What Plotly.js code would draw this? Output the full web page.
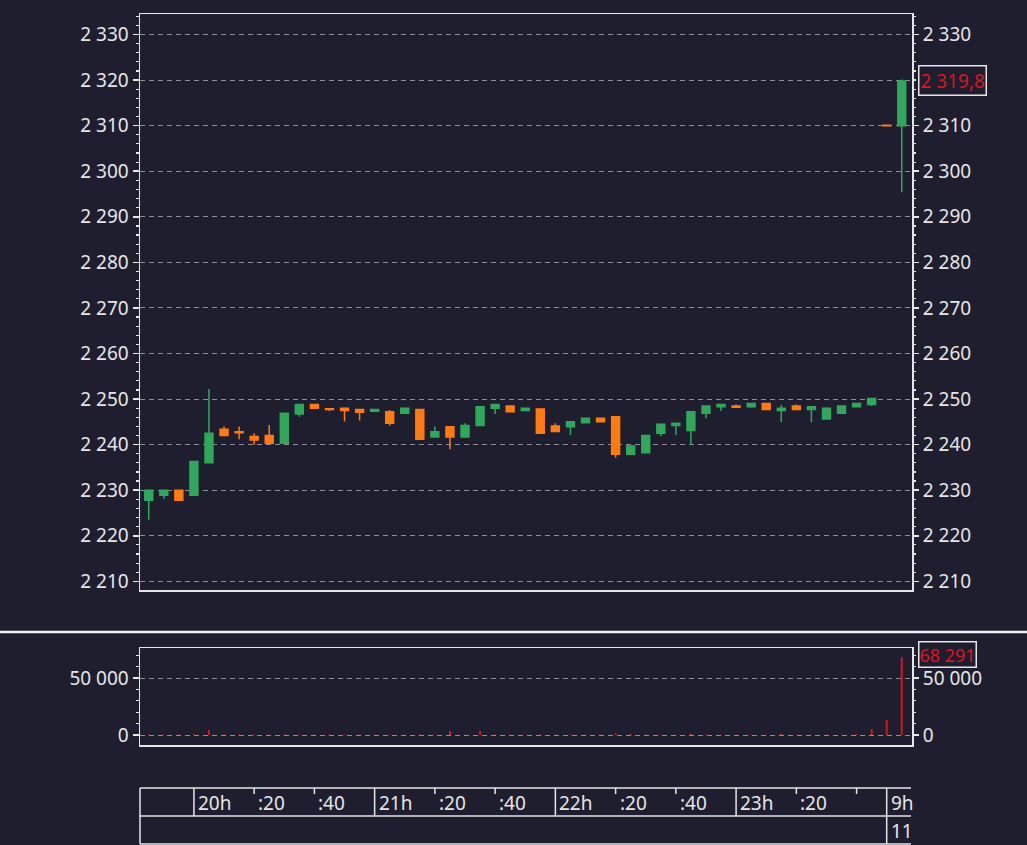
<!DOCTYPE html>
<html>
<head>
<meta charset="utf-8">
<script src="https://cdn.plot.ly/plotly-3.0.1.min.js"></script>
<style>
html,body{margin:0;padding:0;background:#1e1e2f;overflow:hidden;}
#chart{width:1027px;height:845px;}
</style>
</head>
<body>
<div id="chart"></div>
<script>
// ---------- DATA ----------
const days = [
  10,10,10,10,10,10,10,10,10,10,10,10,10,10,10,10,10,10,10,10,
  10,10,10,10,10,10,10,10,10,10,10,10,10,10,10,10,10,10,10,10,
  10,10,10,10,10,10,10,10,10,
  11,11
];
const times = [
  "19:45","19:50","19:55",
  "20:00","20:05","20:10","20:15","20:20","20:25","20:30","20:35","20:40","20:45","20:50","20:55",
  "21:00","21:05","21:10","21:15","21:20","21:25","21:30","21:35","21:40","21:45","21:50","21:55",
  "22:00","22:05","22:10","22:15","22:20","22:25","22:30","22:35","22:40","22:45","22:50","22:55",
  "23:00","23:05","23:10","23:15","23:20","23:25","23:30","23:35","23:40","23:45",
  "09:00","09:05"
];
const open = [
  2227.8,2228.9,2230.0,2228.9,2236.0,2243.4,2242.8,2241.8,2242.0,2240.3,
  2246.7,2248.8,2247.9,2248.0,2247.7,2247.3,2247.2,2246.9,2247.7,2241.7,
  2243.9,2241.7,2244.2,2248.0,2248.5,2247.5,2247.8,2244.1,2243.9,2244.8,
  2245.8,2246.1,2237.9,2238.2,2242.5,2244.2,2243.1,2246.9,2248.3,2248.5,
  2248.3,2249.0,2247.5,2248.5,2247.7,2245.6,2246.9,2248.3,2248.8,
  2310.1,2310.0
];
const high = [
  2230.1,2230.0,2230.0,2236.3,2252.2,2244.0,2244.0,2242.5,2244.3,2246.9,
  2248.8,2248.8,2247.9,2248.0,2247.7,2247.7,2247.6,2248.0,2247.7,2244.0,
  2243.9,2244.7,2248.3,2248.8,2248.5,2248.0,2247.8,2244.7,2245.0,2245.8,
  2245.8,2246.1,2239.7,2242.0,2244.5,2244.7,2247.2,2248.5,2248.8,2248.8,
  2249.0,2249.0,2248.7,2248.8,2248.5,2248.2,2248.5,2249.0,2250.1,
  2310.1,2320.1
];
const low = [
  2223.5,2228.1,2227.8,2228.9,2236.0,2241.8,2241.2,2240.0,2240.3,2240.3,
  2246.1,2248.0,2247.4,2245.1,2245.3,2247.3,2244.2,2246.9,2241.2,2241.7,
  2239.0,2241.7,2244.2,2246.7,2247.2,2247.5,2242.5,2242.9,2242.1,2244.8,
  2245.0,2237.2,2237.9,2238.2,2241.9,2242.1,2240.0,2245.8,2247.4,2248.2,
  2248.1,2247.7,2244.9,2247.7,2244.9,2245.6,2246.9,2248.3,2248.5,
  2310.0,2295.4
];
const close = [
  2230.0,2230.0,2227.8,2236.3,2242.5,2242.0,2242.6,2241.0,2240.3,2246.9,
  2248.8,2248.0,2247.7,2247.5,2247.1,2247.7,2244.7,2248.0,2241.2,2242.8,
  2241.7,2244.2,2248.3,2248.8,2247.2,2248.0,2242.5,2242.9,2245.0,2245.8,
  2245.0,2237.9,2239.7,2242.0,2244.5,2244.7,2247.2,2248.5,2248.8,2248.2,
  2249.0,2247.7,2248.0,2247.7,2248.3,2248.0,2248.5,2249.0,2250.1,
  2310.0,2319.8
];
const volume = [
  600,400,500,700,4400,500,600,500,300,600,
  500,300,400,500,300,300,500,300,400,300,
  3500,300,3500,400,300,300,400,300,500,300,
  300,1500,900,300,400,300,1200,400,300,300,
  400,300,1200,300,300,400,300,1000,5260,
  13160,68291
];
const priceTicks = [2210,2220,2230,2240,2250,2260,2270,2280,2290,2300,2310,2320,2330];

// ---------- STYLE / GEOMETRY ----------
const W = 1027, H = 845;
const BG = '#1e1e2f';
const FG = '#e6e6e6';
const GRID = '#8e8e98';
const GREEN = '#2fa85b';
const ORANGE = '#ff7b0f';
const RED = '#dc1420';
const FONT = 'Noto Sans, Open Sans, sans-serif';
const FS = 19;
const px = v => v / W;          // x pixel -> paper
const py = v => 1 - v / H;      // y pixel -> paper

const cats = days.map((d, i) => d + ' ' + times[i]);
const X_RANGE = [-0.58, 50.68];
const XDOM = [px(140), px(912)];

function fmt(v, dec) {
  const s = v.toFixed(dec).split('.');
  const intp = s[0].replace(/\B(?=(\d{3})+(?!\d))/g, ' ');
  return dec ? intp + ',' + s[1] : intp;
}

const PRICE_RANGE = [2208.1, 2334.5];
const VOL_RANGE = [-8772, 76316];
const last = close.length - 1;

const traces = [
  {
    type: 'candlestick', x: cats, open: open, high: high, low: low, close: close,
    xaxis: 'x', yaxis: 'y', whiskerwidth: 0, hoverinfo: 'skip',
    increasing: {line: {color: GREEN, width: 1.5}, fillcolor: GREEN},
    decreasing: {line: {color: ORANGE, width: 1.5}, fillcolor: ORANGE}
  },
  {
    type: 'bar', x: cats, y: volume, xaxis: 'x2', yaxis: 'y3',
    width: 0.13, marker: {color: RED, line: {width: 0}}, hoverinfo: 'skip'
  },
  // carriers so that the right-hand scales are drawn (no visible marks)
  {type: 'scatter', mode: 'markers', x: [cats[0]], y: [null], xaxis: 'x', yaxis: 'y2',
   marker: {opacity: 0}, hoverinfo: 'skip'},
  {type: 'scatter', mode: 'markers', x: [cats[0]], y: [null], xaxis: 'x2', yaxis: 'y4',
   marker: {opacity: 0}, hoverinfo: 'skip'}
];

const priceAxis = {
  range: PRICE_RANGE, autorange: false, tickmode: 'array', tickvals: priceTicks,
  ticktext: priceTicks.map(v => fmt(v, 0)),
  ticks: 'outside', ticklen: 6, tickwidth: 1.5, tickcolor: FG,
  minor: {tickmode: 'linear', tick0: 2210, dtick: 2, ticks: 'outside', ticklen: 3, tickwidth: 1.2, tickcolor: FG, showgrid: false},
  zeroline: false, fixedrange: true, tickfont: {size: FS, color: FG}
};
const volAxis = {
  range: VOL_RANGE, autorange: false, tick0: 0, dtick: 50000, tickformat: ',d',
  ticks: 'outside', ticklen: 6, tickwidth: 1.5, tickcolor: FG,
  minor: {tick0: 0, dtick: 10000, ticks: 'outside', ticklen: 3, tickwidth: 1.2, tickcolor: FG, showgrid: false},
  zeroline: false, fixedrange: true, tickfont: {size: FS, color: FG}
};

// right-hand price labels: the one hidden behind the last-price box is left out
const rightTicks = priceTicks.filter(v => Math.abs(v - close[last]) > 3);

const layout = {
  width: W, height: H, paper_bgcolor: BG, plot_bgcolor: BG,
  margin: {l: 0, r: 0, t: 0, b: 0}, showlegend: false,
  separators: ', ', boxgap: 0.25,
  font: {family: FONT, size: FS, color: FG},
  xaxis: {
    domain: XDOM, anchor: 'y', type: 'category', categoryorder: 'array', categoryarray: cats,
    range: X_RANGE, showticklabels: false, ticks: '', showgrid: false, zeroline: false,
    showline: true, mirror: true, linecolor: FG, linewidth: 1.5,
    rangeslider: {visible: false}, fixedrange: true
  },
  yaxis: Object.assign({}, priceAxis, {
    domain: [py(590), py(14)], anchor: 'x', side: 'left',
    showgrid: true, gridcolor: GRID, gridwidth: 1, griddash: '5px,4px',
    showline: true, mirror: true, linecolor: FG, linewidth: 1.5
  }),
  yaxis2: Object.assign({}, priceAxis, {
    overlaying: 'y', anchor: 'x', side: 'right', showgrid: false, showline: false,
    tickvals: rightTicks, ticktext: rightTicks.map(v => fmt(v, 0))
  }),
  xaxis2: {
    domain: XDOM, anchor: 'y3', type: 'category', categoryorder: 'array', categoryarray: cats,
    range: X_RANGE, showticklabels: false, ticks: '', showgrid: false, zeroline: false,
    showline: true, mirror: true, linecolor: FG, linewidth: 1.5, fixedrange: true
  },
  yaxis3: Object.assign({}, volAxis, {
    domain: [py(745), py(648)], anchor: 'x2', side: 'left',
    showgrid: true, gridcolor: GRID, gridwidth: 1, griddash: '5px,4px',
    showline: true, mirror: true, linecolor: FG, linewidth: 1.5
  }),
  yaxis4: Object.assign({}, volAxis, {
    overlaying: 'y3', anchor: 'x2', side: 'right', showgrid: false, showline: false
  }),
  shapes: [],
  annotations: []
};

// separator above the volume pane
layout.shapes.push({type: 'line', xref: 'paper', yref: 'paper', x0: 0, x1: 1,
  y0: py(632), y1: py(632), line: {color: '#f2f2f2', width: 2.5}});

// time scale box
const T_TOP = 788, T_MID = 816, T_BOT = 844, T_L = 140, T_R = 911;
[T_TOP, T_MID, T_BOT].forEach(yy => layout.shapes.push({type: 'line', xref: 'paper', yref: 'paper',
  x0: px(T_L), x1: px(T_R), y0: py(yy), y1: py(yy), line: {color: FG, width: 1.5}}));
layout.shapes.push({type: 'line', xref: 'paper', yref: 'paper', x0: px(T_L), x1: px(T_L),
  y0: py(T_TOP), y1: py(T_BOT), line: {color: FG, width: 1.5}});

// marks derived from the time list
const marks = [];
times.forEach((t, i) => {
  const hh = parseInt(t.slice(0, 2), 10), mm = parseInt(t.slice(3), 10);
  const newDay = i > 0 && days[i] !== days[i - 1];
  if (mm === 0 || newDay) marks.push({i: i, kind: 'hour', label: hh + 'h', newDay: newDay});
  else if (mm % 20 === 0) marks.push({i: i, kind: 'min', label: ':' + t.slice(3)});
});
marks.forEach((m, k) => {
  const next = marks[k + 1];
  const showLabel = !(m.kind === 'min' && next && next.i - m.i < 3);
  if (m.kind === 'hour') {
    layout.shapes.push({type: 'line', xref: 'x', yref: 'paper', x0: m.i, x1: m.i,
      y0: py(T_TOP), y1: py(m.newDay ? T_BOT : T_MID), line: {color: FG, width: 1.5}});
  } else {
    layout.shapes.push({type: 'line', xref: 'x', yref: 'paper', x0: m.i, x1: m.i,
      y0: py(T_TOP), y1: py(T_TOP + 6), line: {color: FG, width: 1.5}});
  }
  if (showLabel) layout.annotations.push({xref: 'x', yref: 'paper', x: m.i, y: py(803),
    xanchor: 'left', yanchor: 'middle', xshift: 2, showarrow: false, text: m.label,
    font: {size: FS, color: FG}});
  if (m.newDay) layout.annotations.push({xref: 'x', yref: 'paper', x: m.i, y: py(831),
    xanchor: 'left', yanchor: 'middle', xshift: 2, showarrow: false, text: String(days[m.i]),
    font: {size: FS, color: FG}});
});

// last value labels
layout.annotations.push({xref: 'paper', x: px(918), xanchor: 'left', yref: 'y', y: close[last],
  yanchor: 'middle', showarrow: false, text: fmt(close[last], 1),
  font: {size: FS, color: RED}, bgcolor: BG, bordercolor: FG, borderwidth: 1.5, borderpad: 1});
layout.annotations.push({xref: 'paper', x: px(918), xanchor: 'left', yref: 'y3', y: volume[last],
  yanchor: 'middle', yshift: 3, showarrow: false, text: fmt(volume[last], 0),
  font: {size: 18, color: RED}, bgcolor: BG, bordercolor: FG, borderwidth: 1.5, borderpad: 0});

Plotly.newPlot('chart', traces, layout, {staticPlot: true, displayModeBar: false});
</script>
</body>
</html>
